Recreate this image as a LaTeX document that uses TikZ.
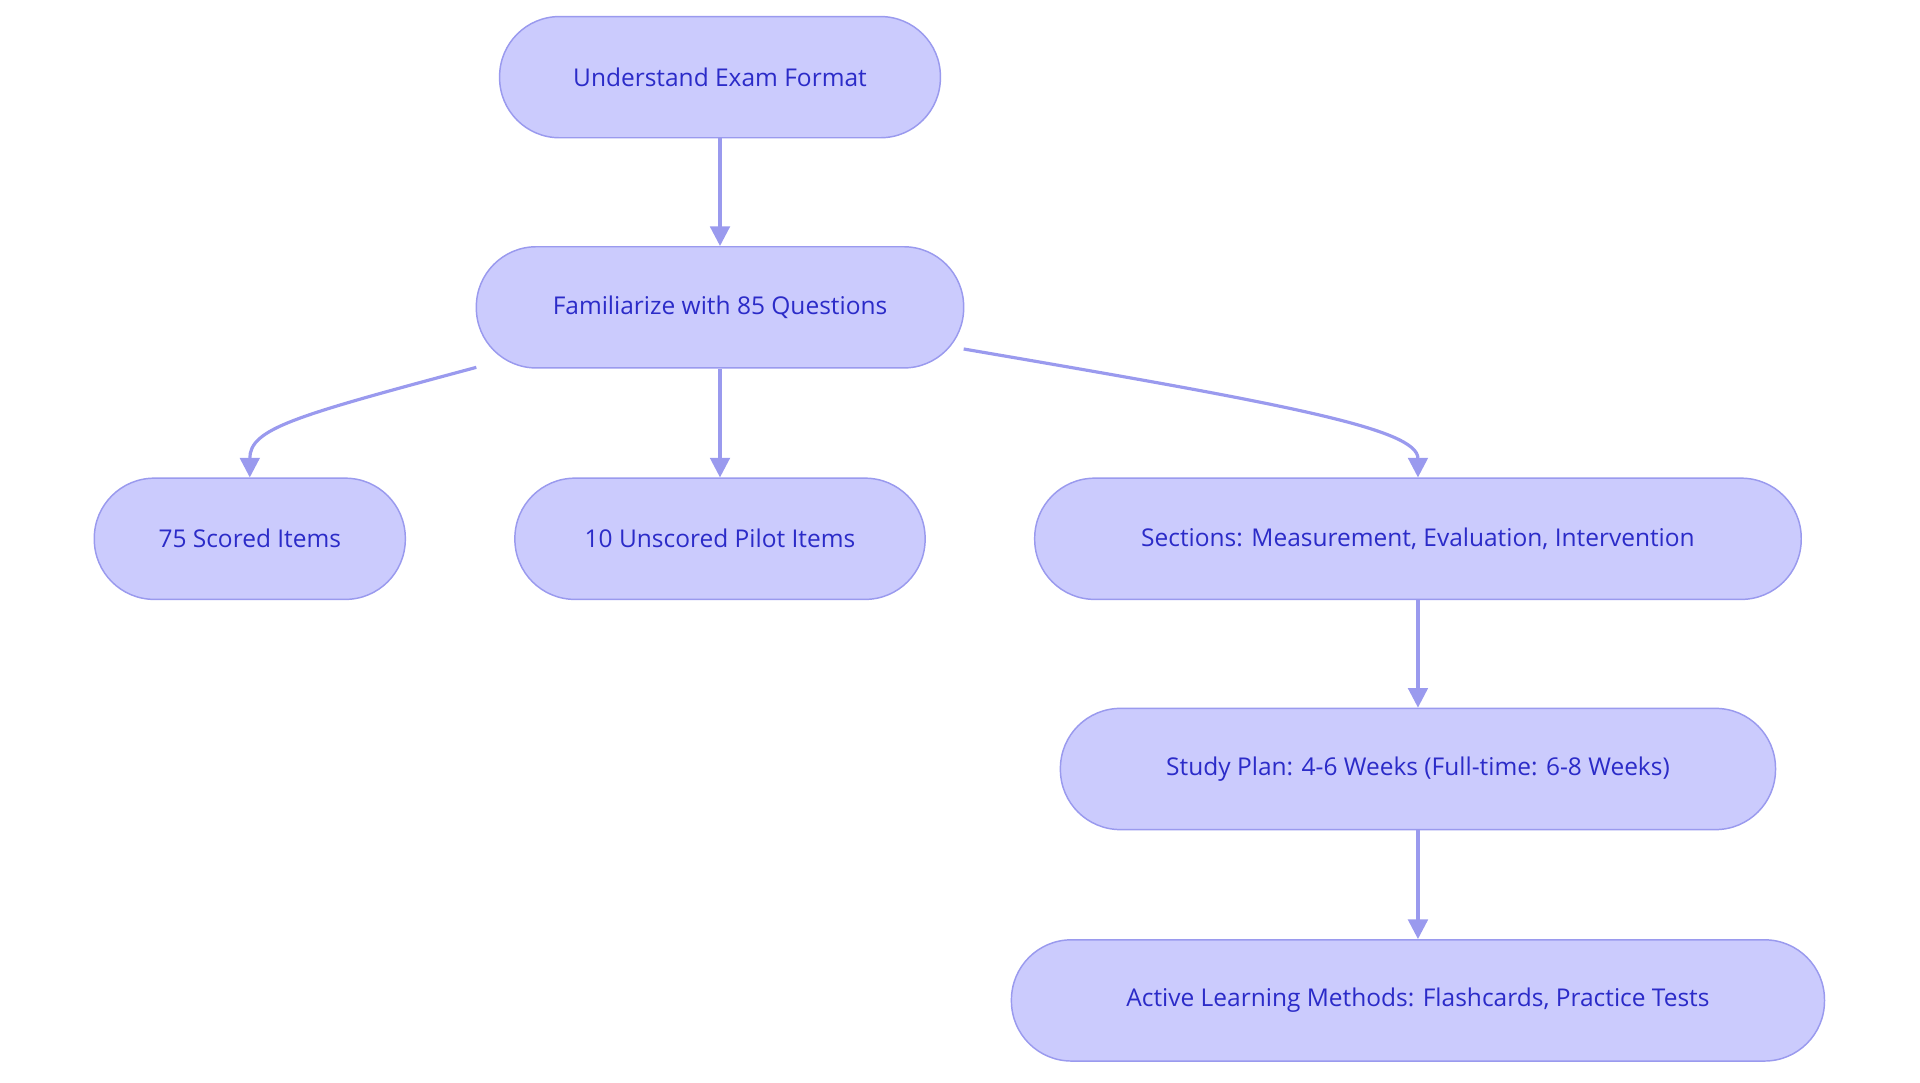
\documentclass[tikz,border=0pt]{standalone}
\usepackage{fontspec}
\setmainfont{Open Sans}
\usetikzlibrary{arrows.meta}
\definecolor{nfill}{HTML}{CBCBFD}
\definecolor{nline}{HTML}{9A9AEE}
\definecolor{ntext}{HTML}{2B2BC8}
\begin{document}
\begin{tikzpicture}[x=1pt,y=-1pt,
  box/.style={draw=nline,fill=nfill,line width=1.2pt,rounded corners=49pt,minimum height=99pt,inner sep=0pt,text=ntext,font=\fontsize{20}{24}\selectfont},
  conn/.style={draw=nline,line width=2.6pt,-{Triangle[length=16pt,width=16pt]}}]
\useasboundingbox (0,0) rectangle (1568,884);
\node[box,minimum width=360pt] (A) at (588,63) {Understand Exam Format};
\node[box,minimum width=398pt] (B) at (588,251) {Familiarize with 85 Questions};
\node[box,minimum width=254pt] (C) at (204,440) {75 Scored Items};
\node[box,minimum width=335pt] (D) at (588,440) {10 Unscored Pilot Items};
\node[box,minimum width=626pt] (E) at (1158,440) {Sections: Measurement, Evaluation, Intervention};
\node[box,minimum width=584pt] (F) at (1158,628) {Study Plan: 4-6 Weeks (Full-time: 6-8 Weeks)};
\node[box,minimum width=664pt] (G) at (1158,817) {Active Learning Methods: Flashcards, Practice Tests};
\coordinate (b1) at (389,300);
\coordinate (b2) at (787,285);
\draw[conn] (A) -- (B);
\draw[conn] (B) -- (D);
\draw[conn] (b1) .. controls (240,340) and (204,350) .. (C.north);
\draw[conn] (b2) .. controls (1050,330) and (1158,350) .. (E.north);
\draw[conn] (E) -- (F);
\draw[conn] (F) -- (G);
\end{tikzpicture}
\end{document}
